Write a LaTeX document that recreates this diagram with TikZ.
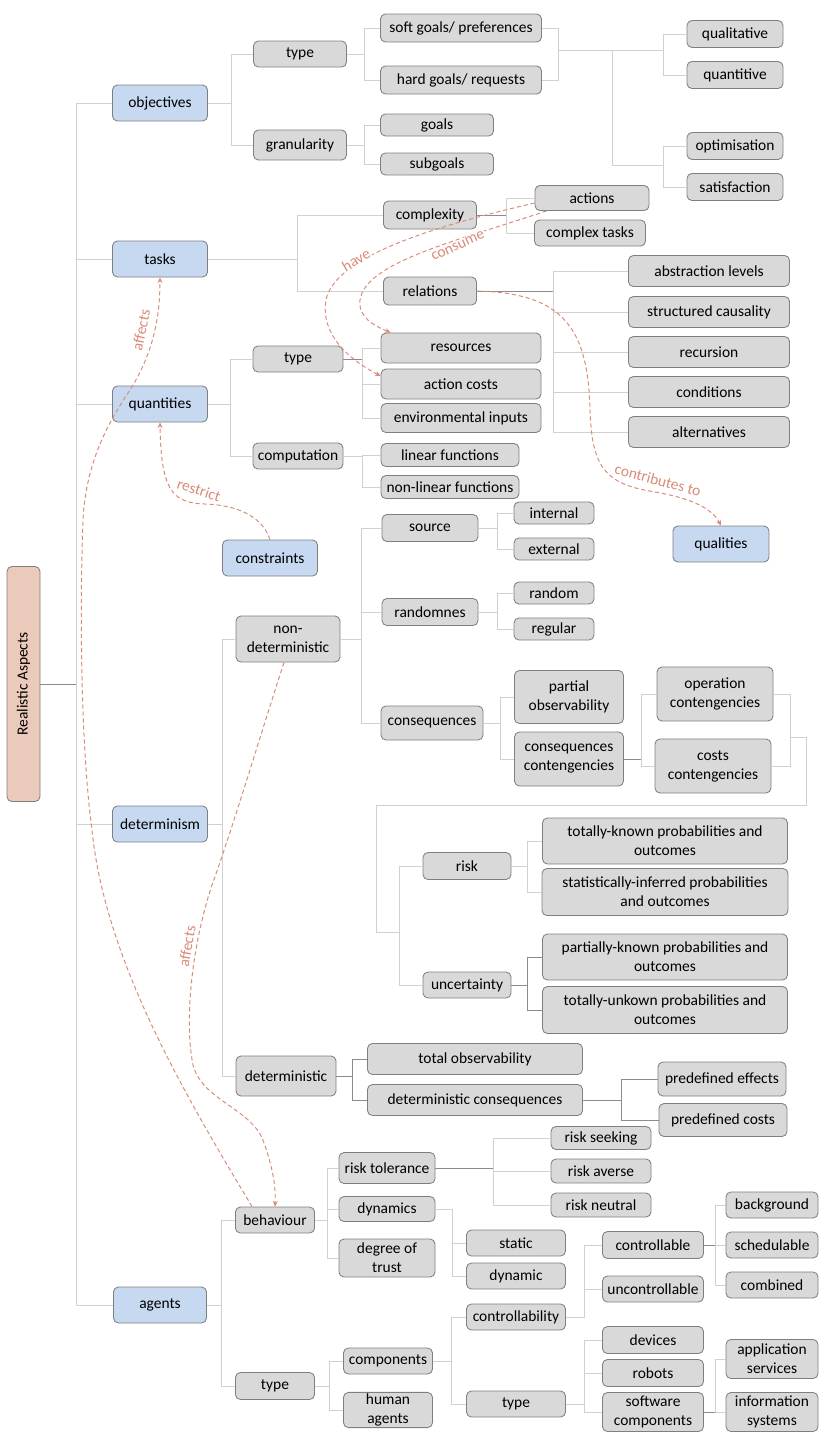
\documentclass[tikz,border=0pt]{standalone}
\usepackage{fontspec}
\setmainfont{Carlito}
\usetikzlibrary{arrows.meta,calc}

\definecolor{boxfill}{HTML}{D9D9D9}
\definecolor{boxline}{HTML}{7F7F7F}
\definecolor{topicfill}{HTML}{C6D9F1}
\definecolor{rootfill}{HTML}{EBCABB}
\definecolor{linelight}{HTML}{D0D0D0}
\definecolor{linedark}{HTML}{8C8C8C}
\definecolor{linkred}{HTML}{D98A78}

\begin{document}
\begin{tikzpicture}[x=0.025cm, y=-0.025cm,
  leafbox/.style={draw=boxline, fill=boxfill, rounded corners=3.5pt, line width=0.6pt,
    inner sep=1pt, align=center, font=\fontsize{11}{13.5}\selectfont},
  topicbox/.style={leafbox, fill=topicfill},
  rootbox/.style={leafbox, fill=rootfill},
  sz/.style 2 args={minimum width=#1*0.025cm, minimum height=#2*0.025cm},
  branch/.style={draw=linelight, line width=0.6pt},
  stem/.style={draw=linedark, line width=0.6pt},
  link/.style={draw=linkred, line width=0.7pt, dash pattern=on 3pt off 2pt,
    -{Stealth[length=4pt, width=3.5pt]}},
  linklabel/.style={text=linkred, font=\fontsize{11}{13}\selectfont, inner sep=0pt},
  inlabel/.style={linklabel, fill=white, inner sep=1pt}
]
\useasboundingbox (0,0) rectangle (831,1441);

% root and main topics
\node[rootbox, sz={235}{33}, rotate=90] (root) at (23.5,684) {Realistic Aspects};
\node[topicbox, sz={95}{36}] (obj) at (160,103) {objectives};
\node[topicbox, sz={95}{36}] (tasks) at (160,259) {tasks};
\node[topicbox, sz={95}{36}] (quan) at (160,404) {quantities};
\node[topicbox, sz={95}{36}] (cons) at (270,558) {constraints};
\node[topicbox, sz={95}{36}] (detm) at (160,824) {determinism};
\node[topicbox, sz={93}{36}] (agents) at (160,1305) {agents};
\node[topicbox, sz={96}{36}] (qual) at (721,544) {qualities};

% objectives
\node[leafbox, sz={93}{26}] (otype) at (300,54) {type};
\node[leafbox, sz={93}{30}] (gran) at (300,145) {granularity};
\node[leafbox, sz={161}{28}] (soft) at (461,28) {soft goals/ preferences};
\node[leafbox, sz={161}{28}] (hard) at (461,80) {hard goals/ requests};
\node[leafbox, sz={113}{22}] (goals) at (437,125) {goals};
\node[leafbox, sz={113}{22}] (subg) at (437,164) {subgoals};
\node[leafbox, sz={96}{27}] (qlt) at (735,34) {qualitative};
\node[leafbox, sz={96}{27}] (qnt) at (735,75) {quantitive};
\node[leafbox, sz={96}{27}] (opt) at (735,146) {optimisation};
\node[leafbox, sz={96}{27}] (sat) at (735,187) {satisfaction};

% tasks
\node[leafbox, sz={93}{28}] (cplx) at (430,215) {complexity};
\node[leafbox, sz={93}{28}] (rel) at (430,291) {relations};
\node[leafbox, sz={114}{25}] (act) at (592,198) {actions};
\node[leafbox, sz={111}{26}] (ctask) at (590,233) {complex tasks};
\node[leafbox, sz={161}{31}] (abst) at (709,271) {abstraction levels};
\node[leafbox, sz={161}{31}] (caus) at (709,312) {structured causality};
\node[leafbox, sz={161}{31}] (recu) at (709,352) {recursion};
\node[leafbox, sz={161}{31}] (cond) at (709,392) {conditions};
\node[leafbox, sz={161}{31}] (alte) at (709,432) {alternatives};

% quantities
\node[leafbox, sz={90}{26}] (qtype) at (298,359) {type};
\node[leafbox, sz={90}{26}] (comp) at (298,456) {computation};
\node[leafbox, sz={160}{30}] (res) at (461,348) {resources};
\node[leafbox, sz={160}{30}] (acost) at (461,384) {action costs};
\node[leafbox, sz={160}{29}] (env) at (461,418) {environmental inputs};
\node[leafbox, sz={138}{23}] (lin) at (450,455) {linear functions};
\node[leafbox, sz={138}{23}] (nlin) at (450,487) {non-linear functions};

% determinism
\node[leafbox, sz={104}{46}] (ndet) at (288,639) {non-\\deterministic};
\node[leafbox, sz={100}{40}] (det) at (286,1076) {deterministic};
\node[leafbox, sz={96}{27}] (src) at (430,528) {source};
\node[leafbox, sz={96}{27}] (rnd) at (430,612) {randomnes};
\node[leafbox, sz={102}{34}] (csq) at (432,723) {consequences};
\node[leafbox, sz={80}{22}] (intl) at (554,513) {internal};
\node[leafbox, sz={80}{22}] (extl) at (554,549) {external};
\node[leafbox, sz={80}{22}] (rand) at (554,593) {random};
\node[leafbox, sz={80}{22}] (regl) at (554,629) {regular};
\node[leafbox, sz={109}{53}] (pobs) at (569,697) {partial\\observability};
\node[leafbox, sz={109}{54}] (ccont) at (569,759) {consequences\\contengencies};
\node[leafbox, sz={116}{54}] (ocont) at (715,694) {operation\\contengencies};
\node[leafbox, sz={116}{54}] (kcont) at (713,766) {costs\\contengencies};
\node[leafbox, sz={88}{27}] (risk) at (467,866) {risk};
\node[leafbox, sz={88}{26}] (unc) at (467,985) {uncertainty};
\node[leafbox, sz={245}{46}] (tkp) at (665,841) {totally-known probabilities and\\outcomes};
\node[leafbox, sz={246}{47}] (sip) at (665,892) {statistically-inferred probabilities\\and outcomes};
\node[leafbox, sz={245}{46}] (pkp) at (665,957) {partially-known probabilities and\\outcomes};
\node[leafbox, sz={245}{47}] (tup) at (665,1010) {totally-unkown probabilities and\\outcomes};
\node[leafbox, sz={215}{31}] (tobs) at (475,1059) {total observability};
\node[leafbox, sz={215}{31}] (dcsq) at (475,1100) {deterministic consequences};
\node[leafbox, sz={128}{34}] (peff) at (722,1079) {predefined effects};
\node[leafbox, sz={128}{33}] (pcost) at (723,1120) {predefined costs};

% agents
\node[leafbox, sz={79}{26}] (beh) at (275,1220) {behaviour};
\node[leafbox, sz={79}{27}] (atype) at (275,1386) {type};
\node[leafbox, sz={96}{31}] (rtol) at (387,1168) {risk tolerance};
\node[leafbox, sz={96}{25}] (dyn) at (387,1209) {dynamics};
\node[leafbox, sz={96}{38}] (trust) at (387,1258) {degree of\\trust};
\node[leafbox, sz={100}{23}] (rseek) at (601,1138) {risk seeking};
\node[leafbox, sz={100}{24}] (raver) at (601,1171) {risk averse};
\node[leafbox, sz={100}{24}] (rneut) at (601,1205) {risk neutral};
\node[leafbox, sz={99}{26}] (stat) at (516,1243) {static};
\node[leafbox, sz={99}{26}] (dynm) at (516,1276) {dynamic};
\node[leafbox, sz={89}{26}] (cmps) at (388,1361) {components};
\node[leafbox, sz={89}{35}] (human) at (388,1410) {human\\agents};
\node[leafbox, sz={99}{26}] (ctrb) at (516,1317) {controllability};
\node[leafbox, sz={99}{26}] (ctype) at (516,1404) {type};
\node[leafbox, sz={101}{27}] (ctrl) at (653,1245) {controllable};
\node[leafbox, sz={101}{26}] (unctrl) at (653,1289) {uncontrollable};
\node[leafbox, sz={101}{27}] (dev) at (653,1340) {devices};
\node[leafbox, sz={101}{27}] (robot) at (653,1373) {robots};
\node[leafbox, sz={101}{39}] (swc) at (653,1412) {software\\components};
\node[leafbox, sz={92}{26}] (bgr) at (772,1205) {background};
\node[leafbox, sz={92}{26}] (sched) at (772,1245) {schedulable};
\node[leafbox, sz={92}{26}] (comb) at (772,1285) {combined};
\node[leafbox, sz={92}{39}] (appl) at (772,1359) {application\\services};
\node[leafbox, sz={92}{39}] (info) at (772,1412) {information\\systems};

% tree connectors
\coordinate (rj) at (76,684);
\draw[stem] (root.south) -- (rj);
\foreach \n in {obj,tasks,quan,detm,agents}
  \draw[branch] (rj) |- (\n.west);

\foreach \n in {otype,gran} \draw[branch] (obj.east) -- ++(23,0) |- (\n.west);
\foreach \n in {soft,hard} \draw[branch] (otype.east) -- ++(17,0) |- (\n.west);
\foreach \n in {goals,subg} \draw[branch] (gran.east) -- ++(17,0) |- (\n.west);
% goal kinds
\coordinate (gj) at (612,50);
\coordinate (gq) at (663,50);
\coordinate (gs) at (663,165);
\foreach \n in {soft,hard} \draw[branch] (\n.east) -- ++(16,0) |- (gj);
\draw[branch] (gj) -- (gq);
\draw[branch] (gj) |- (gs);
\foreach \n in {qlt,qnt} \draw[branch] (gq) |- (\n.west);
\foreach \n in {opt,sat} \draw[branch] (gs) |- (\n.west);

\foreach \n in {cplx,rel} \draw[branch] (tasks.east) -- ++(89,0) |- (\n.west);
\foreach \n in {act,ctask} \draw[branch] (cplx.east) -- ++(29,0) |- (\n.west);
\draw[stem] (cplx.east) -- ++(29,0);
\foreach \n in {abst,caus,recu,cond,alte} \draw[branch] (rel.east) -- ++(76,0) |- (\n.west);
\draw[stem] (rel.east) -- ++(76,0);

\foreach \n in {qtype,comp} \draw[branch] (quan.east) -- ++(22,0) |- (\n.west);
\foreach \n in {res,acost,env} \draw[branch] (qtype.east) -- ++(19,0) |- (\n.west);
\draw[stem] (qtype.east) -- ++(19,0);
\foreach \n in {lin,nlin} \draw[branch] (comp.east) -- ++(19,0) |- (\n.west);

\foreach \n in {ndet,det} \draw[branch] (detm.east) -- ++(14,0) |- (\n.west);
\foreach \n in {src,rnd,csq} \draw[branch] (ndet.east) -- ++(21,0) |- (\n.west);
\foreach \n in {intl,extl} \draw[branch] (src.east) -- ++(19,0) |- (\n.west);
\foreach \n in {rand,regl} \draw[branch] (rnd.east) -- ++(19,0) |- (\n.west);
\foreach \n in {pobs,ccont} \draw[branch] (csq.east) -- ++(17,0) |- (\n.west);
\foreach \n in {ocont,kcont} \draw[branch] (ccont.east) -- ++(17,0) |- (\n.west);
\draw[stem] (ccont.east) -- ++(17,0);
% contingencies lead to risk and uncertainty
\coordinate (cj) at (790,737);
\coordinate (cw) at (376,805);
\coordinate (ck) at (399,932);
\foreach \n in {ocont,kcont} \draw[branch] (\n.east) -| (cj);
\draw[branch] (cj) -- ++(16,0) |- (cw) |- (ck);
\foreach \n in {risk,unc} \draw[branch] (ck) |- (\n.west);
\foreach \n in {tkp,sip} \draw[branch] (risk.east) -- ++(16,0) |- (\n.west);
\foreach \n in {pkp,tup} \draw[stem] (unc.east) -- ++(16,0) |- (\n.west);
\foreach \n in {tobs,dcsq} \draw[stem] (det.east) -- ++(16,0) |- (\n.west);
\foreach \n in {peff,pcost} \draw[stem] (dcsq.east) -- ++(38,0) |- (\n.west);

\foreach \n in {beh,atype} \draw[branch] (agents.east) -- ++(14,0) |- (\n.west);
\foreach \n in {rtol,dyn,trust} \draw[branch] (beh.east) -- ++(12,0) |- (\n.west);
\foreach \n in {rseek,raver,rneut} \draw[branch] (rtol.east) -- ++(58,0) |- (\n.west);
\draw[stem] (rtol.east) -- ++(58,0);
\foreach \n in {stat,dynm} \draw[branch] (dyn.east) -- ++(17,0) |- (\n.west);
\foreach \n in {cmps,human} \draw[branch] (atype.east) -- ++(14,0) |- (\n.west);
\foreach \n in {ctrb,ctype} \draw[branch] (cmps.east) -- ++(18,0) |- (\n.west);
\foreach \n in {ctrl,unctrl} \draw[branch] (ctrb.east) -- ++(18,0) |- (\n.west);
\foreach \n in {dev,robot,swc} \draw[branch] (ctype.east) -- ++(18,0) |- (\n.west);
\foreach \n in {bgr,sched,comb} \draw[branch] (ctrl.east) -- ++(11,0) |- (\n.west);
\draw[stem] (ctrl.east) -- ++(11,0);
\foreach \n in {appl,info} \draw[branch] (swc.east) -- ++(11,0) |- (\n.west);
\draw[stem] (swc.east) -- ++(11,0);

% dashed relations
\draw[link] ($(act.west)+(0,5)$) .. controls (440,225) and (335,255) .. (326,300)
  .. controls (320,335) and (350,360) .. ($(acost.west)+(0,-8)$);
\node[inlabel, rotate=30] (lhave) at (356,260) {have};
\draw[link] ($(act.south west)+(12,0)$) .. controls (460,240) and (365,262) .. (360,300)
  .. controls (358,318) and (375,326) .. ($(res.north west)+(10,0)$);
\node[inlabel, rotate=24] (lcons) at (458,246) {consume};
\draw[link] (rel.east) .. controls (565,293) and (588,330) .. (590,410)
  .. controls (592,468) and (605,484) .. (655,492)
  .. controls (690,498) and (712,508) .. (qual.north);
\node[linklabel, rotate=-15] (lcontr) at (658,480) {contributes to};
\draw[link] (cons.north) .. controls (262,515) and (235,505) .. (205,504)
  .. controls (172,503) and (161,490) .. (quan.south);
\node[linklabel, rotate=-18] (lrest) at (199,490) {restrict};
\draw[link] ($(beh.north west)+(17,0)$) .. controls (185,1095) and (105,960) .. (92,830)
  .. controls (80,740) and (80,600) .. (83,520)
  .. controls (86,460) and (110,420) .. (130,390)
  .. controls (152,355) and (160,320) .. (tasks.south);
\node[linklabel, rotate=78] (laff) at (141,330) {affects};
\draw[link] ($(ndet.south)+(-4,0)$) .. controls (262,730) and (232,830) .. (212,885)
  .. controls (192,945) and (184,1020) .. (193,1065)
  .. controls (202,1100) and (250,1108) .. (263,1140)
  .. controls (272,1165) and (276,1185) .. (beh.north);
\node[linklabel, rotate=80] (laff2) at (187,946) {affects};
\end{tikzpicture}
\end{document}
